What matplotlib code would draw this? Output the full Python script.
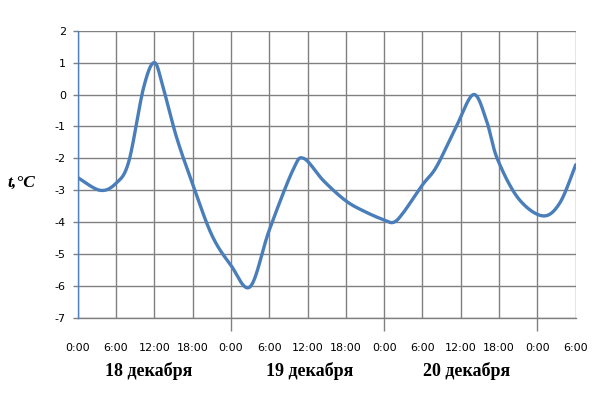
import numpy as np
import matplotlib
matplotlib.use("Agg")
import matplotlib.pyplot as plt

# ---- data ----
hours = [0, 3.5, 6, 8, 10.3, 12, 13.4, 15.5, 18, 21, 24, 27, 30, 33.7, 35.4,
         38.5, 42, 45, 48, 49.5, 51, 54, 56.2, 59.3, 62, 64, 65.7, 69, 72.8, 75.5, 78]
temps = [-2.6, -3.0, -2.78, -2.1, 0.2, 1.0, 0.2, -1.35, -2.8, -4.4, -5.35, -6.02, -4.25, -2.37, -2.0,
         -2.7, -3.33, -3.67, -3.93, -4.0, -3.7, -2.83, -2.26, -1.0, 0.0, -0.8, -2.0, -3.25, -3.8, -3.4, -2.2]
tick_hours = list(range(0, 79, 6))
tick_labels = ["0:00", "6:00", "12:00", "18:00"] * 3 + ["0:00", "6:00"]
day_bounds = [24, 48, 72]
day_labels = ["18 декабря", "19 декабря", "20 декабря"]
yticks = list(range(-7, 3))

# ---- Excel-like smoothed line (Bezier with tension 1/6) in screen-like units ----
sx, sy = 6.39, 31.9
P = np.column_stack([np.array(hours) * sx, np.array(temps) * sy])
n = len(P)
curve = []
for i in range(n - 1):
    p0 = P[i - 1] if i > 0 else P[i]
    p1 = P[i]
    p2 = P[i + 1]
    p3 = P[i + 2] if i + 2 < n else P[i + 1]
    c1 = p1 + (p2 - p0) / 6.0
    c2 = p2 - (p3 - p1) / 6.0
    t = np.linspace(0, 1, 30)[:, None]
    seg = (1 - t) ** 3 * p1 + 3 * (1 - t) ** 2 * t * c1 + 3 * (1 - t) * t ** 2 * c2 + t ** 3 * p2
    curve.append(seg if i == 0 else seg[1:])
curve = np.vstack(curve)
cx, cy = curve[:, 0] / sx, curve[:, 1] / sy

fig = plt.figure(figsize=(6.0, 4.07), dpi=100)
ax = fig.add_axes([77.7 / 600, 1 - 318 / 407, (575.7 - 77.7) / 600, (318 - 30.7) / 407])

grid_c = "#808080"
ax.plot(cx, cy, color="#4A7EBB", lw=2.4, solid_capstyle="round", zorder=3)

ax.set_xlim(0, 78)
ax.set_ylim(-7, 2)
ax.xaxis.remove_overlapping_locs = False
ax.set_xticks(tick_hours)
ax.set_xticklabels(tick_labels)
ax.set_xticks(day_bounds, minor=True)
ax.set_yticks(yticks)
ax.set_yticklabels([str(v) for v in yticks])

ax.grid(True, which="major", color=grid_c, lw=1.0)
ax.tick_params(axis="x", which="major", length=0, pad=18, labelsize=8, colors="black")
ax.tick_params(axis="x", which="minor", length=9.5, width=1.0, color=grid_c, direction="out")
ax.tick_params(axis="y", which="major", length=3.6, width=1.0, color=grid_c, pad=5, labelsize=8)

for s in ["top", "right"]:
    ax.spines[s].set_visible(False)
ax.spines["bottom"].set_color(grid_c)
ax.spines["bottom"].set_linewidth(1.0)
ax.spines["left"].set_color("#4F81BD")
ax.spines["left"].set_linewidth(1.0)
ax.spines["left"].set_zorder(4)

fig.text(7 / 600, 1 - 183 / 407, "t,°C", family="Liberation Serif", weight="bold",
         style="italic", fontsize=12.5, ha="left", va="center")

label_x = [148.7, 310, 466.7]
for lx, lab in zip(label_x, day_labels):
    fig.text(lx / 600, 1 - 371 / 407, lab, family="Liberation Serif", weight="bold",
             fontsize=13, ha="center", va="center")

fig.savefig("out.png", dpi=100)
